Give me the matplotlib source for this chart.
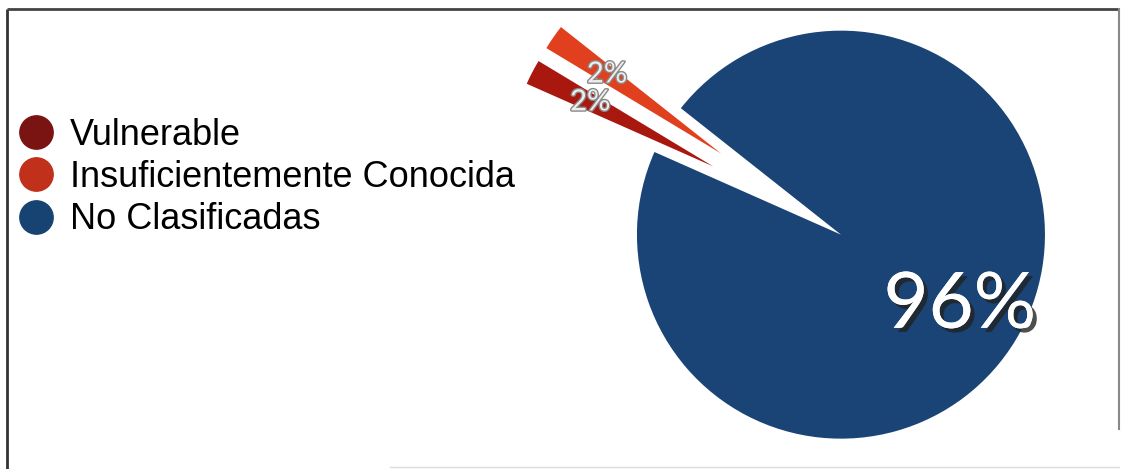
import matplotlib.pyplot as plt
import matplotlib.patheffects as pe
from matplotlib.lines import Line2D

# categorías y porcentajes
categorias = ['Vulnerable', 'Insuficientemente Conocida', 'No Clasificadas']
porcentajes = [2, 2, 96]
colores = ['#a8180f', '#e0401e', '#1a4475']
leyenda_colores = ['#7a1412', '#c0301b', '#174373']

W, H = 1122, 469
R = 204                      # radio del pastel en píxeles
separacion = [0.59 * R, 0.59 * R, 0.12 * R]

fig = plt.figure(figsize=(W / 100, H / 100), dpi=100)
ax = fig.add_axes([0, 0, 1, 1])

wedges, textos, autotextos = ax.pie(
    porcentajes, colors=colores, explode=separacion,
    startangle=156.1, counterclock=False,
    center=(820, H - 222), radius=R, frame=True,
    autopct='%1.0f%%', pctdistance=0.68,
    wedgeprops=dict(linewidth=0),
)
ax.set_xlim(0, W)
ax.set_ylim(0, H)
ax.set_aspect('equal')
ax.axis('off')

# etiquetas de las cuñas pequeñas
for t in autotextos[:2]:
    t.set_fontsize(21)
    t.set_color('#eeeeee')
    t.set_family('Lato')
    t.set_path_effects([pe.withStroke(linewidth=2, foreground='#888888')])

# etiqueta grande
big = autotextos[2]
big.set_fontsize(56)
big.set_color('white')
big.set_family('Lato')
big.set_path_effects([pe.withSimplePatchShadow(offset=(3, -3), shadow_rgbFace='#222222', alpha=0.8),
                      pe.Normal()])

# leyenda
handles = [Line2D([0], [0], marker='o', linestyle='', markersize=24,
                  markerfacecolor=c, markeredgecolor=c) for c in leyenda_colores]
fig.legend(handles, categorias, loc='upper left', bbox_to_anchor=(-0.018, 0.818),
           frameon=False, handletextpad=0.3, labelspacing=0.2, handlelength=1.3,
           prop={'family': 'Liberation Sans', 'size': 26})

# marco
ax.plot([7, 7], [0, H - 9], color='#333333', lw=2, solid_capstyle='butt')
ax.plot([7, 1119], [H - 9, H - 9], color='#444444', lw=2, solid_capstyle='butt')
ax.plot([1119, 1119], [40, H - 9], color='#888888', lw=1.5)
ax.plot([390, 1119], [2, 2], color='#dddddd', lw=1)

fig.savefig('out.png', dpi=100, facecolor='white')
